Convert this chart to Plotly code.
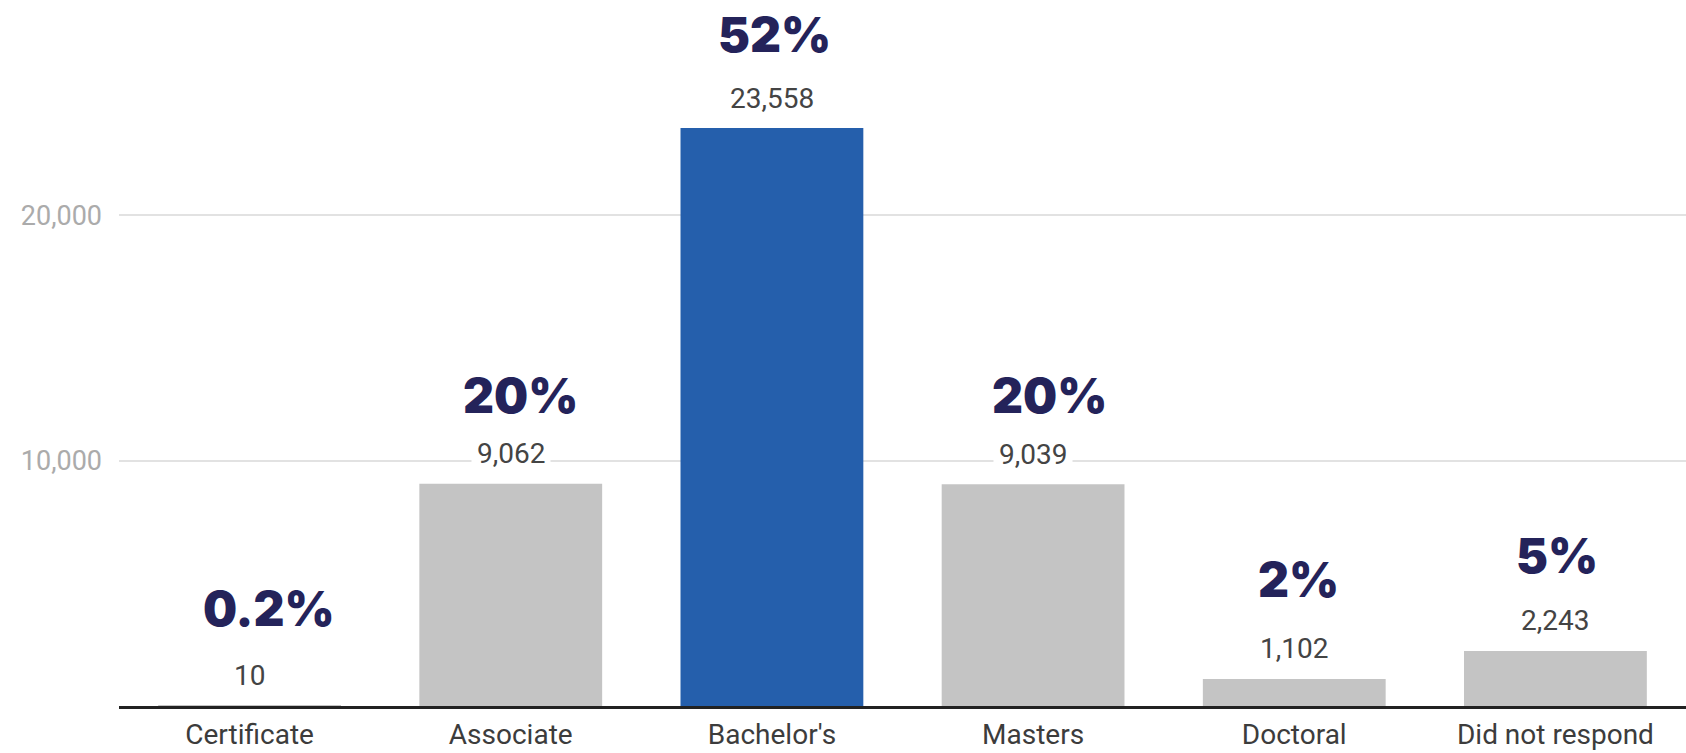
import plotly.graph_objects as go

# Highest degree held by respondents
categories = ["Certificate", "Associate", "Bachelor's", "Masters", "Doctoral", "Did not respond"]
counts = [10, 9062, 23558, 9039, 1102, 2243]
shares = ["0.2%", "20%", "52%", "20%", "2%", "5%"]
tick_values = [10000, 20000]
tick_labels = ["10,000", "20,000"]

# Styling
GREY = "#c4c4c4"
BLUE = "#255fac"
NAVY = "#24235a"
bar_colors = [BLUE if c == "Bachelor's" else GREY for c in categories]
value_lift = 30                          # px from bar top to centre of count label
share_lift = [67, 58, 64, 59, 69, 65]    # px from count label to share label
share_nudge = [19, 10, 3, 16, 4, 2]      # horizontal nudge of share labels, px

fig = go.Figure(
    go.Bar(
        x=categories,
        y=counts,
        marker=dict(color=bar_colors, line=dict(width=0)),
        hoverinfo="skip",
    )
)

for cat, val, share, lift, nudge in zip(categories, counts, shares, share_lift, share_nudge):
    fig.add_annotation(
        x=cat, y=val, text=f"{val:,}", showarrow=False,
        yanchor="middle", yshift=value_lift,
        font=dict(family="Roboto", size=28, color="#444444"),
        bgcolor="white", borderpad=5,
    )
    fig.add_annotation(
        x=cat, y=val, text=share, showarrow=False,
        yanchor="middle", yshift=value_lift + lift, xshift=nudge,
        font=dict(family="Inter", size=48, color=NAVY, weight=900),
    )

fig.update_layout(
    width=1686,
    height=753,
    margin=dict(l=119, r=0, t=0, b=47),
    paper_bgcolor="white",
    plot_bgcolor="white",
    bargap=0.3,
    showlegend=False,
    font=dict(family="Roboto"),
)
fig.update_xaxes(
    showline=True, linecolor="#222222", linewidth=2.5,
    showgrid=False, ticks="outside", ticklen=2, tickcolor="rgba(0,0,0,0)",
    tickfont=dict(family="Roboto", size=28, color="#3c3c3c"),
)
fig.update_yaxes(
    range=[0, 28780],
    tickvals=tick_values, ticktext=tick_labels,
    showgrid=True, gridcolor="#e2e2e2", gridwidth=2,
    zeroline=False, showline=False,
    ticklabelstandoff=16,
    tickfont=dict(family="Roboto", size=27, color="#ababab"),
)

fig.write_html("out.html")
